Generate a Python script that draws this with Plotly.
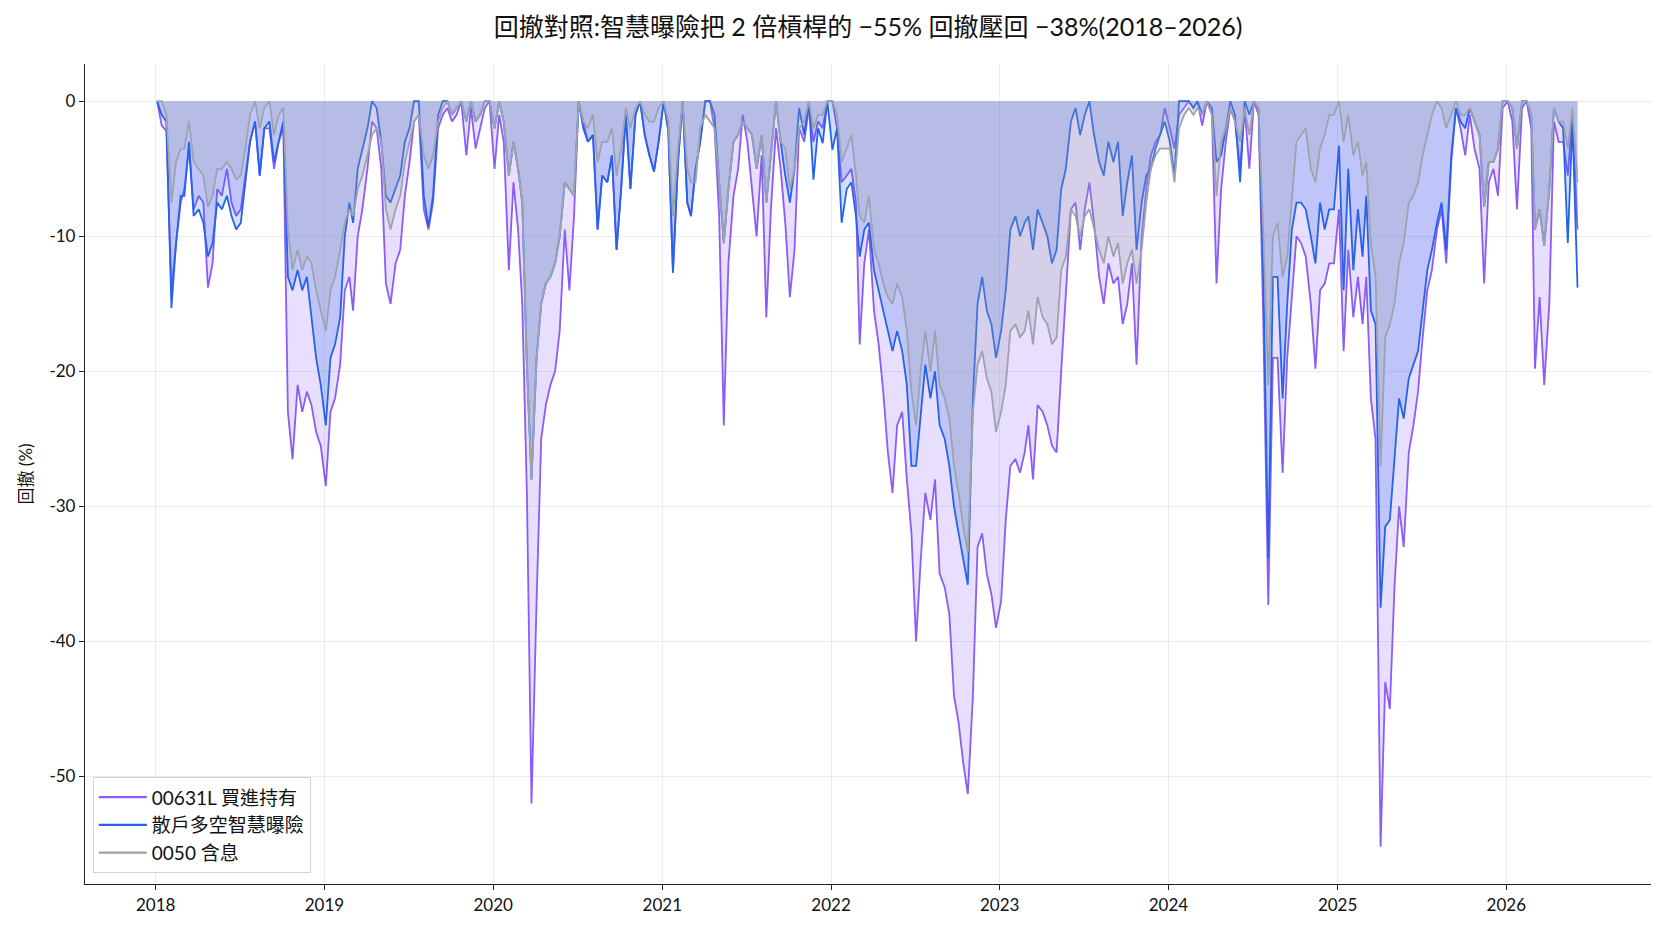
import plotly.graph_objects as go

# drawdown (%) sampled on the 4th, 14th and 24th of every month, Jan 2018 .. Jun 2026
dd_00631l = [
    0, -1.8, -2.2, -14, -10.5, -7.5, -6.5, -3.5, -8, -7, -7.5, -13.8, -12, -6.5, -7, -5, -7.5, -8.5,
    -8, -5.5, -3, -1.5, -5.5, -2, -2, -5, -3, -2, -23, -26.5, -21, -23, -21.5, -22.5, -24.5, -25.5,  # 2018
    -28.5, -23, -22, -19.5, -14, -13, -15.5, -10, -8, -5, -1.5, -2, -5, -13.5, -15, -12, -11, -7,
    -4.5, -1.5, -1, -8, -9.5, -7.5, -2, -1, -0.5, -1.5, -1, 0, -4, -0.5, -3.5, -2, -0.5, 0,  # 2019
    -5, -1, -3, -12.5, -6, -9.5, -15, -29, -52, -37, -25, -22.5, -21, -20, -17, -9.5, -14, -8.5,
    0, -1.5, -3, -2.5, -9.5, -5.5, -6, -4, -11, -6.5, -1, -6.5, -1, 0, -2.5, -4, -5.2, -3,  # 2020
    0, -2.2, -12.7, -4.5, 0, -7.5, -8.5, -5, -3, 0, 0, -2, -8.5, -24, -12, -7, -5, -1,
    -3, -6.5, -10, -4, -16, -8, -2, -5, -9, -14.5, -11, -2, -3, -0.5, -3, -1.5, -2, 0,  # 2021
    0, -2, -6, -5.5, -5, -7.5, -18, -12, -9.5, -15.5, -18, -21.5, -26, -29, -24, -23, -28, -32,
    -40, -34, -29, -31, -28, -35, -36, -38, -44, -46, -49, -51.3, -44, -33, -32, -35, -36.5, -39,  # 2022
    -37, -31, -27, -26.5, -27.5, -26, -24, -28, -22.5, -23, -24, -25.5, -26, -20, -14, -8, -7.5, -11,
    -8, -6, -9, -13, -15, -12, -13.5, -13, -16.5, -15, -12, -19.5, -10, -6.5, -4, -3, -2.5, -0.5,  # 2023
    -2, -3.5, -1, -0.5, 0, -0.5, 0, -1.8, 0, -1, -13.5, -6.5, -3, -0.5, -1.5, -5, -0.5, -5,
    0, -1, -16, -37.3, -19, -19, -27.5, -19, -14.5, -10, -10.5, -11.5, -15, -19.8, -14, -13.5, -12, -12,  # 2024
    -8, -18.5, -11, -16, -13, -16.5, -13, -22, -25, -55.2, -43, -45, -36, -30, -33, -26, -24, -21.5,
    -17.5, -14, -12.5, -9.5, -8, -12, -4.5, -0.5, -2, -4, -1, -3.5, -5, -13.5, -6, -5, -7, -0.5,  # 2025
    0, -1.5, -8, -0.5, 0, -2, -19.8, -14.5, -21, -15, -1.5, -3, -3, -5.5, -1, -9.5,  # 2026
]

dd_smart = [
    0, -1, -1.5, -15.3, -10.5, -7, -7, -3, -8.5, -8, -9, -11.5, -10.5, -7.5, -8, -7, -8.5, -9.5,
    -9, -6, -3, -1.5, -5.5, -2, -1.5, -4.5, -3, -1.5, -13, -14, -12.5, -14, -13, -16, -19, -21,  # 2018
    -24, -19, -18, -16, -10, -7.5, -9, -5, -3.5, -2, 0, -0.5, -3, -7, -7.5, -6.5, -5.5, -3,
    -2, 0, 0, -7, -9.3, -7, -1, 0, 0, -1, -0.5, 0, -1.5, 0, -1.5, -1, 0, 0,  # 2019
    -2, 0, -1.5, -5.5, -3, -5, -7.5, -19.5, -28, -19, -15, -13.5, -13, -12, -10, -6, -6.5, -7,
    0, -2, -3, -2.5, -9.5, -5.5, -6, -4, -11, -6.5, -1, -6.5, -1, 0, -2.5, -4, -5.2, -3,  # 2020
    0, -2.2, -12.7, -4.5, 0, -7.5, -8.5, -5, -3, 0, 0, -1, -6, -10.5, -6.5, -3, -2.5, -1.5,
    -2, -2.5, -5, -2.5, -7.5, -4, 0, -3, -5.5, -7.5, -5, -0.5, -2.5, 0, -5.8, -2, -3.1, 0,  # 2021
    -3.6, -2, -9, -6.5, -6, -8.5, -11.5, -9.5, -9, -12.5, -14, -15.5, -17, -18.5, -17, -18.5, -21, -27,
    -27, -23, -19.5, -22, -20, -24, -25, -27, -30, -32, -34, -35.8, -22, -15, -13, -15.5, -16.5, -19,  # 2022
    -17, -14, -9.5, -8.5, -10, -9, -8.5, -11, -8, -9, -10, -12, -11, -6.5, -5, -1.5, -0.5, -2.5,
    -1, 0, -2.5, -4.5, -5.5, -3, -4.5, -3, -8.5, -6, -4, -11, -7.5, -5.5, -5, -3.5, -2.5, -1.5,  # 2023
    -3, -5.5, 0, 0, 0, -0.5, 0, -1, 0, -0.5, -4.5, -4, -2, 0, -1, -6, 0, -1,
    0, -0.5, -12.5, -33.8, -13, -13, -22, -15, -9.5, -7.5, -7.5, -8, -10, -12, -7.5, -9.5, -8, -8,  # 2024
    -3.3, -14, -5, -12.5, -8, -11.5, -7, -15.5, -16.5, -37.5, -31.5, -31, -26.5, -22, -23.5, -20.5, -19.5, -18.5,
    -15.5, -12.5, -11, -9, -7.5, -11, -4, -0.5, -1.5, -2, -0.5, -1.5, -2.5, -7.8, -4.5, -4.5, -3.5, 0,  # 2025
    0, -0.5, -3.5, 0, 0, -1, -9.5, -8, -10.7, -6.5, -0.5, -1.5, -2, -10.5, -1.5, -13.8,  # 2026
]

dd_0050 = [
    0, 0, -1, -7.5, -4.5, -3.5, -3.5, -1.5, -4.5, -5, -5.5, -7.8, -7, -5, -5, -4.5, -5, -5.8,
    -5.5, -3.5, -1, 0, -2, -0.5, 0, -2.5, -1, -0.5, -9.5, -12.5, -11, -12.5, -11.5, -12, -14, -15.5,  # 2018
    -17, -14, -13, -11, -9, -8, -8.5, -6.5, -5.5, -4, -2.5, -2, -3, -8, -9.5, -8, -7, -4.5,
    -3, -1.5, -1, -4, -5, -4, -1.5, -0.5, 0, -1, -0.5, 0, -1.5, 0, -1.5, -1, 0, 0,  # 2019
    -2, 0, -1.5, -5.5, -3, -5, -7.5, -19.5, -28, -19, -15, -13.5, -13, -12, -10, -6, -6.5, -7,
    0, -1.5, -2, -1, -4.5, -3, -3, -2, -5.5, -3.5, -0.5, -2, -0.5, 0, -1, -1.5, -1.5, -0.5,  # 2020
    0, -1.5, -8.5, -3.5, 0, -5, -6, -6, -2, -1, -1.5, -2, -6, -10.5, -6.5, -3, -2.5, -1.5,
    -2, -2.5, -5, -2.5, -7.5, -4, 0, -3, -3.5, -6.5, -5, -2, -1.5, 0, -2, -1, -1, 0,  # 2021
    0, -1, -4.5, -3.5, -2.5, -5.5, -8.5, -9, -7, -11, -12, -13.5, -14.5, -15, -13.5, -14.5, -17, -21.5,
    -24, -20, -17, -20, -17, -21, -22, -23.5, -27, -29, -31.5, -33.4, -23, -19.5, -18.5, -20.5, -21.5, -24.5,  # 2022
    -23, -21, -17, -16.5, -17.5, -17, -15.5, -18, -14.5, -16, -16.5, -18, -17.5, -12.5, -11.5, -8, -8.5, -10,
    -8.5, -8, -9.5, -11, -12, -10, -11.5, -10.5, -13.5, -12, -11, -13.5, -11, -7.5, -5, -4, -3.5, -3.5,  # 2023
    -3.5, -6, -2, -1, -0.5, -1, -0.5, -1, 0, -1, -7, -3, -2, -0.5, -1.5, -3, -0.5, -2.5,
    0, -0.5, -9.5, -21, -10, -9, -13, -11.5, -7, -3, -2.5, -2, -5, -6, -3.5, -2.5, -1, -1,  # 2024
    0, -3, -1, -4, -3, -5.5, -4.5, -10.5, -13, -27, -17.5, -16.5, -15, -12, -10.5, -7.5, -7, -6,
    -4, -2.5, -1, 0, -0.5, -2, -1, 0, -1, -1, -0.5, -1.5, -2.5, -7.8, -4.5, -4.5, -3.5, 0,  # 2025
    0, -0.5, -3.5, 0, 0, -1, -9.5, -8, -10.7, -6.5, -0.5, -1.5, -1.5, -3.5, -0.5, -6,  # 2026
]

year_ticks = [str(y) for y in range(2018, 2027)]
y_ticks = [0, -10, -20, -30, -40, -50]

dates = [f"{y}-{m:02d}-{d:02d}" for y in range(2018, 2027) for m in range(1, 13) for d in (4, 14, 24)]

series = [
    ("00631L 買進持有", dd_00631l, "#8b5cf6", "rgba(139,92,246,0.2)"),
    ("散戶多空智慧曝險", dd_smart, "#2563eb", "rgba(37,99,235,0.2)"),
    ("0050 含息", dd_0050, "#9ca3af", "rgba(156,163,175,0.25)"),
]

font_fam = "Lato, 'Noto Sans CJK TC', sans-serif"

fig = go.Figure()
for name, vals, color, fillc in series:
    fig.add_trace(go.Scatter(
        x=dates[:len(vals)], y=vals, name=name, mode="lines", showlegend=False,
        line=dict(color=color, width=1.8), fill="tozeroy", fillcolor=fillc,
    ))
# plain line entries for the legend (no fill swatch)
for name, vals, color, fillc in series:
    fig.add_trace(go.Scatter(
        x=[None], y=[None], name=name, mode="lines",
        line=dict(color=color, width=2.2), showlegend=True,
    ))

# the page body has an 8px margin, so the figure is a bit smaller than the window
fig.update_layout(
    width=1657, height=922,
    margin=dict(l=77, r=14, t=56, b=46),
    paper_bgcolor="white", plot_bgcolor="white",
    font=dict(family=font_fam, size=17, color="#111"),
    title=dict(text="回撤對照:智慧曝險把 2 倍槓桿的 −55% 回撤壓回 −38%(2018–2026)",
               x=0.5, xref="paper", xanchor="center", y=1 - 19 / 922, yanchor="middle",
               font=dict(size=25, color="#111")),
    legend=dict(x=0.005, y=0.013, xanchor="left", yanchor="bottom",
                bgcolor="rgba(255,255,255,0.85)", bordercolor="#d4d4d4", borderwidth=1,
                font=dict(size=19), itemwidth=48, tracegroupgap=4),
    showlegend=True,
)
fig.update_xaxes(
    type="date", range=["2017-08-01", "2026-11-10"],
    tickvals=[f"{y}-01-01" for y in year_ticks], ticktext=year_ticks,
    showline=True, linecolor="#222", linewidth=1.3, ticks="outside", ticklen=5, tickcolor="#222",
    showgrid=True, gridcolor="#ececec", gridwidth=1, zeroline=False,
)
fig.update_yaxes(
    range=[-57.96, 2.76], tickvals=y_ticks, ticktext=[str(v) for v in y_ticks],
    showline=True, linecolor="#222", linewidth=1.3, ticks="outside", ticklen=5, tickcolor="#222",
    showgrid=True, gridcolor="#ececec", gridwidth=1, zeroline=False,
    title=dict(text="回撤 (%)", font=dict(size=17), standoff=12),
)

fig.write_html("out.html")
